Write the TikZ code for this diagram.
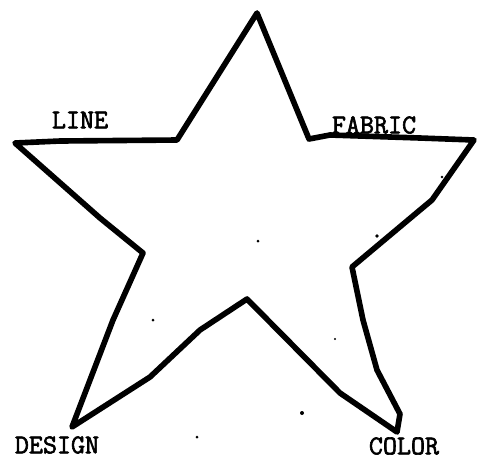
\documentclass[tikz,border=0pt]{standalone}
\usepackage{fontspec}
\newfontfamily\typewriter{Latin Modern Mono}[FakeBold=2.2]
\usepackage{tikz}
\usetikzlibrary{calc}

\begin{document}
\begin{tikzpicture}[
  x=0.02cm, y=-0.02cm,
  every node/.style={font=\typewriter\fontsize{15.5}{17}\selectfont},
  edge/.style={draw=black, line width=3.2pt, line join=round, line cap=round},
  speck/.style={fill=black},
  label/.style={inner sep=0pt, anchor=center}
]
  \useasboundingbox (0,0) rectangle (477,458);

  % Spitzen und innere Ecken des Sterns
  \coordinate (top)    at (257,13);
  \coordinate (inTR)   at (309,139);
  \coordinate (tipR)   at (474,140);
  \coordinate (inR)    at (352,267);
  \coordinate (tipBR)  at (397,432);
  \coordinate (inB)    at (247,299);
  \coordinate (tipBL)  at (72,427);
  \coordinate (inL)    at (143,253);
  \coordinate (tipL)   at (15,143);
  \coordinate (inTL)   at (177,140);

  % Stern (von Hand gezogen)
  \draw[edge] (top) -- (inTR) -- (330,135) -- (420,138) -- (tipR)
    -- (432,200) -- (420,210) -- (inR)
    -- (363,320) -- (377,370) -- (400,414) -- (tipBR)
    -- (340,393) -- (inB)
    -- (200,330) -- (150,377) -- (tipBL)
    -- (113,320) -- (inL)
    -- (100,218) -- (tipL)
    -- (60,141) -- (inTL) -- cycle;

  % Beschriftungen
  \node[label] (line)   at (80,120)  {LINE};
  \node[label] (fabric) at (374,125) {FABRIC};
  \node[label] (design) at (57,445)  {DESIGN};
  \node[label] (color)  at (404,446) {COLOR};

  % Flecken vom Scan
  \fill[speck] (258,241) circle (1.5);
  \fill[speck] (377,236) circle (1.8);
  \fill[speck] (153,320) circle (1.5);
  \fill[speck] (335,339) circle (1.2);
  \fill[speck] (302,413) circle (2);
  \fill[speck] (197,437) circle (1.5);
  \fill[speck] (442,177) circle (1.3);
\end{tikzpicture}
\end{document}
